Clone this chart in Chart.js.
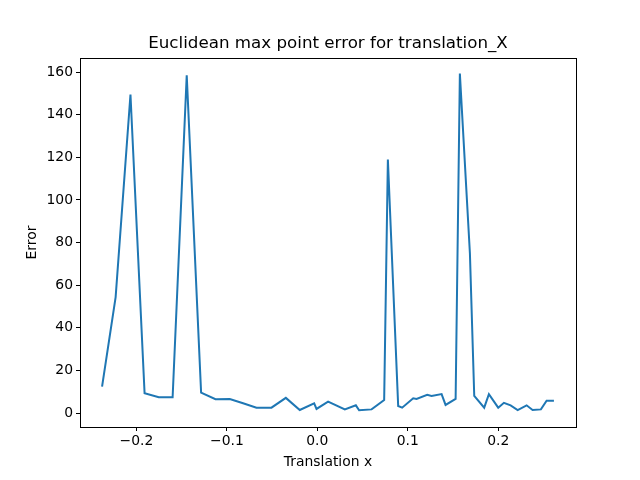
<!DOCTYPE html>
<html>
<head>
<meta charset="utf-8">
<script src="https://cdn.jsdelivr.net/npm/chart.js@4"></script>
<style>
  html, body { margin: 0; padding: 0; background: #fff; }
  #wrap { width: 640px; height: 480px; }
</style>
</head>
<body>
<div id="wrap"><canvas id="errChart" width="640" height="480"></canvas></div>
<script>
// Data
const translationX = [
  -0.238, -0.223, -0.2066, -0.191, -0.1753, -0.160, -0.1444, -0.1285, -0.1126, -0.0968,
  -0.0821, -0.0673, -0.0507, -0.0348, -0.0194, -0.0035, -0.0009, 0.0119, 0.0304, 0.0426,
  0.0462, 0.060, 0.0739, 0.078, 0.0894, 0.0938, 0.106, 0.1097, 0.1215, 0.1263,
  0.1374, 0.1418, 0.1529, 0.1576, 0.1687, 0.1735, 0.1845, 0.1897, 0.200, 0.2063,
  0.2137, 0.2215, 0.2314, 0.238, 0.2472, 0.2535, 0.2616
];
const maxError = [
  12.4, 54.4, 149.5, 9.3, 7.4, 7.4, 158.5, 9.6, 6.5, 6.6,
  4.6, 2.5, 2.5, 7.1, 1.4, 4.5, 1.9, 5.3, 1.7, 3.6,
  1.3, 1.7, 6.1, 119.0, 3.3, 2.5, 6.9, 6.6, 8.5, 8.0,
  8.9, 3.8, 6.6, 159.3, 75.0, 8.0, 2.5, 8.8, 2.5, 4.8,
  3.6, 1.4, 3.6, 1.4, 1.7, 5.8, 5.8
];
const xTicks = [-0.2, -0.1, 0.0, 0.1, 0.2];
const yTicks = [0, 20, 40, 60, 80, 100, 120, 140, 160];

const FONT = "'DejaVu Sans', sans-serif";

// matplotlib-style full frame around the plot area
const frameBox = {
  id: "frameBox",
  afterDraw(chart) {
    const { ctx, chartArea: a } = chart;
    ctx.save();
    ctx.strokeStyle = "#000";
    ctx.lineWidth = 1;
    ctx.strokeRect(Math.round(a.left) + 0.5, Math.round(a.top) + 0.5,
      Math.round(a.right - a.left), Math.round(a.bottom - a.top));
    ctx.restore();
  },
};

const fmtX = (v) => v.toFixed(1).replace("-", "\u2212");

new Chart(document.getElementById("errChart"), {
  type: "line",
  data: {
    datasets: [
      {
        data: translationX.map((x, i) => ({ x, y: maxError[i] })),
        borderColor: "#1f77b4",
        borderWidth: 2,
        pointRadius: 0,
        tension: 0,
        fill: false,
      },
    ],
  },
  plugins: [frameBox],
  options: {
    responsive: false,
    animation: false,
    layout: { padding: { left: 0, right: 64, top: 0, bottom: 0 } },
    plugins: {
      legend: { display: false },
      tooltip: { enabled: false },
      title: {
        display: true,
        fullSize: false,
        text: "Euclidean max point error for translation_X",
        color: "#000",
        font: { family: FONT, size: 16.7, weight: "normal" },
        padding: { top: 34, bottom: 4 },
      },
    },
    scales: {
      x: {
        type: "linear",
        min: -0.2624,
        max: 0.286,
        afterBuildTicks: (s) => { s.ticks = xTicks.map((v) => ({ value: v })); },
        afterFit: (s) => { s.height = 53; },
        ticks: {
          color: "#000",
          font: { family: FONT, size: 13.9 },
          padding: 2,
          maxRotation: 0,
          callback: (v) => fmtX(v),
        },
        grid: { drawOnChartArea: false, drawTicks: true, tickLength: 4, color: "#000" },
        border: { display: true, color: "#000" },
        title: {
          display: true,
          text: "Translation x",
          color: "#000",
          font: { family: FONT, size: 13.9 },
          padding: { top: 0, bottom: 9.6 },
        },
      },
      y: {
        min: -6.57,
        max: 166.6,
        afterBuildTicks: (s) => { s.ticks = yTicks.map((v) => ({ value: v })); },
        afterFit: (s) => { s.width = 80; },
        ticks: {
          color: "#000",
          font: { family: FONT, size: 13.9 },
          padding: 3,
          callback: (v) => String(v),
        },
        grid: { drawOnChartArea: false, drawTicks: true, tickLength: 4, color: "#000" },
        border: { display: true, color: "#000" },
        title: {
          display: true,
          text: "Error",
          color: "#000",
          font: { family: FONT, size: 13.9 },
          padding: { top: 23.6, bottom: 0 },
        },
      },
    },
  },
});
</script>
</body>
</html>
